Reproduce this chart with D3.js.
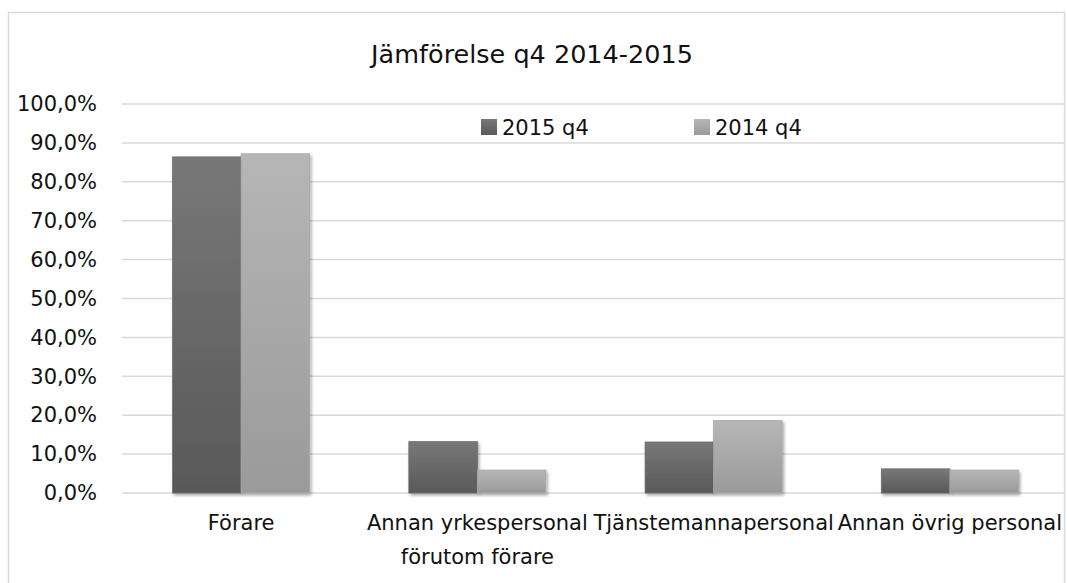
<!DOCTYPE html>
<html>
<head>
<meta charset="utf-8">
<script src="https://cdn.jsdelivr.net/npm/d3@7"></script>
<style>
  html, body { margin: 0; padding: 0; background: #fff; }
  svg { display: block; }
  text { font-family: "DejaVu Sans", sans-serif; fill: #111; }
</style>
</head>
<body>
<svg id="chart" width="1067" height="583"></svg>
<script>
// Share of staff per personnel category, Q4 2015 vs Q4 2014
const categories = [
  "Förare",
  "Annan yrkespersonal förutom förare",
  "Tjänstemannapersonal",
  "Annan övrig personal"
];
const seriesNames = ["2015 q4", "2014 q4"];
const values2015 = [0.864, 0.132, 0.131, 0.062];
const values2014 = [0.872, 0.059, 0.186, 0.059];
const yTicks = [0, 0.1, 0.2, 0.3, 0.4, 0.5, 0.6, 0.7, 0.8, 0.9, 1.0];
const title = "Jämförelse q4 2014-2015";

const FONT = "DejaVu Sans, sans-serif";
const LABEL_SIZE = 21;

const svg = d3.select("#chart");
const H = 583;

// outer chart frame
svg.append("rect")
  .attr("x", 8.5).attr("y", 12.5)
  .attr("width", 1056).attr("height", H)
  .attr("fill", "#fff").attr("stroke", "#d9d9d9").attr("stroke-width", 1.5);

const defs = svg.append("defs");
const grads = [["g2015", "#787878", "#595959"], ["g2014", "#b6b6b6", "#9a9a9a"]];
grads.forEach(([id, c0, c1]) => {
  const g = defs.append("linearGradient").attr("id", id)
    .attr("x1", 0).attr("y1", 0).attr("x2", 0).attr("y2", 1);
  g.append("stop").attr("offset", "0%").attr("stop-color", c0);
  g.append("stop").attr("offset", "100%").attr("stop-color", c1);
});
const sh = defs.append("filter").attr("id", "shadow")
  .attr("x", "-10%").attr("y", "-10%").attr("width", "130%").attr("height", "130%");
sh.append("feDropShadow").attr("dx", 1.5).attr("dy", 2).attr("stdDeviation", 1.8)
  .attr("flood-color", "#000").attr("flood-opacity", 0.35);

const x0 = d3.scaleBand().domain(categories).range([123, 1068]).paddingInner(0.42).paddingOuter(0.21);
const x1 = d3.scaleBand().domain(seriesNames).range([0, x0.bandwidth()]);
const y = d3.scaleLinear().domain([0, 1]).range([493, 104]);
const fills = ["url(#g2015)", "url(#g2014)"];
const edge = ["#6a6a6a", "#a8a8a8"];

// gridlines
svg.append("g").selectAll("line").data(yTicks).join("line")
  .attr("x1", 122).attr("x2", 1064)
  .attr("y1", d => y(d)).attr("y2", d => y(d))
  .attr("stroke", "#d9d9d9").attr("stroke-width", 1.5);

// y axis labels
const fmt = d => d3.format(".1f")(d * 100).replace(".", ",") + "%";
const yAxis = d3.axisLeft(y).tickValues(yTicks).tickFormat(fmt).tickSize(0).tickPadding(0);
const ya = svg.append("g").attr("transform", "translate(97,0)").call(yAxis);
ya.select(".domain").remove();
ya.selectAll("text").attr("font-size", LABEL_SIZE).attr("font-family", FONT).attr("fill", "#111");

// bars
const series = [values2015, values2014];
const groups = svg.append("g").selectAll("g").data(categories).join("g")
  .attr("transform", d => `translate(${x0(d)},0)`);
groups.selectAll("rect")
  .data((d, i) => seriesNames.map((s, k) => ({ s, k, v: series[k][i] })))
  .join("rect")
  .attr("x", d => x1(d.s))
  .attr("y", d => y(d.v))
  .attr("width", x1.bandwidth())
  .attr("height", d => y(0) - y(d.v))
  .attr("fill", d => fills[d.k])
  .attr("stroke", d => edge[d.k]).attr("stroke-width", 0.8)
  .attr("filter", "url(#shadow)");

// category labels, wrapped to the band step
const xa = svg.append("g");
categories.forEach(c => {
  const cx = x0(c) + x0.bandwidth() / 2;
  const t = xa.append("text").attr("x", cx)
    .attr("text-anchor", "middle").attr("font-size", LABEL_SIZE);
  const probe = svg.append("text").attr("font-size", LABEL_SIZE);
  let lines = [], line = [];
  c.split(" ").forEach(w => {
    probe.text(line.concat([w]).join(" "));
    if (line.length && probe.node().getComputedTextLength() > x0.step()) {
      lines.push(line.join(" "));
      line = [w];
    } else line.push(w);
  });
  lines.push(line.join(" "));
  probe.remove();
  lines.forEach((l, i) => {
    t.append("tspan").attr("x", cx).attr("y", 530 + i * 34).text(l);
  });
});

// title
svg.append("text").attr("x", 532).attr("y", 63)
  .attr("text-anchor", "middle").attr("font-size", 25.5).text(title);

// legend
const legendX = [481, 694];
const lg = svg.append("g").selectAll("g").data(seriesNames).join("g")
  .attr("transform", (d, i) => `translate(${legendX[i]},119)`);
lg.append("rect").attr("width", 16).attr("height", 16)
  .attr("fill", (d, i) => fills[i]);
lg.append("text").attr("x", 21).attr("y", 16).attr("font-size", LABEL_SIZE).text(d => d);
</script>
</body>
</html>
